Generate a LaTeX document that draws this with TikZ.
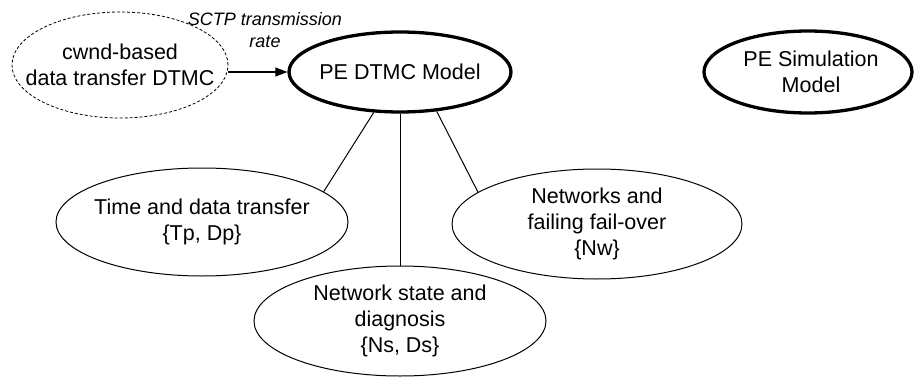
\documentclass[tikz,border=0pt]{standalone}
\usepackage{fontspec}
\setmainfont{Liberation Sans}
\usetikzlibrary{shapes.geometric,arrows.meta}
\tikzset{
  oval/.style={ellipse,draw=black,line width=1pt,inner sep=0pt},
  model/.style={oval,line width=3.3pt},
  source/.style={oval,line width=0.8pt,dash pattern=on 3pt off 2pt},
  txt/.style={align=center,inner sep=0pt,font=\fontsize{21.5}{26}\selectfont},
  note/.style={align=center,inner sep=0pt,font=\fontsize{18}{22.5}\selectfont\itshape},
  link/.style={line width=1pt},
  flow/.style={line width=1.2pt,-{Triangle[length=12pt,width=9pt]}}
}
\begin{document}
\begin{tikzpicture}[x=1pt,y=-1pt]
\useasboundingbox (0,0) rectangle (915,377);

% data-transfer chain feeding the PE model
\node[source,minimum width=216pt,minimum height=106pt] (cwnd) at (120,65) {};
\node[txt] (cwndtxt) at (cwnd) {cwnd-based\\data transfer DTMC};

\node[model,minimum width=222pt,minimum height=80pt] (pe) at (400,72) {};
\node[txt] (petxt) at (pe) {PE DTMC Model};

\node[model,minimum width=208pt,minimum height=82pt] (sim) at (808,72) {};
\node[txt] (simtxt) at (811,72) {PE Simulation\\Model};

% sub-models of the PE DTMC
\node[oval,minimum width=292pt,minimum height=108pt] (time) at (202,222) {};
\node[txt] (timetxt) at (time) {Time and data transfer\\\{Tp, Dp\}};

\node[oval,minimum width=290pt,minimum height=110pt] (net) at (597,224) {};
\node[txt] (nettxt) at (net) {Networks and\\failing fail-over\\\{Nw\}};

\node[oval,minimum width=292pt,minimum height=110pt] (diag) at (400,321) {};
\node[txt] (diagtxt) at (diag) {Network state and\\diagnosis\\\{Ns, Ds\}};

% connectors
\draw[flow] (cwnd.east |- pe.west) -- (pe.west);
\node[note] (rate) at (265,30) {SCTP transmission\\rate};

\draw[link] (pe.237) -- (time.14);
\draw[link] (pe.south) -- (diag.north);
\draw[link] (pe.313) -- (net.165);
\end{tikzpicture}
\end{document}
